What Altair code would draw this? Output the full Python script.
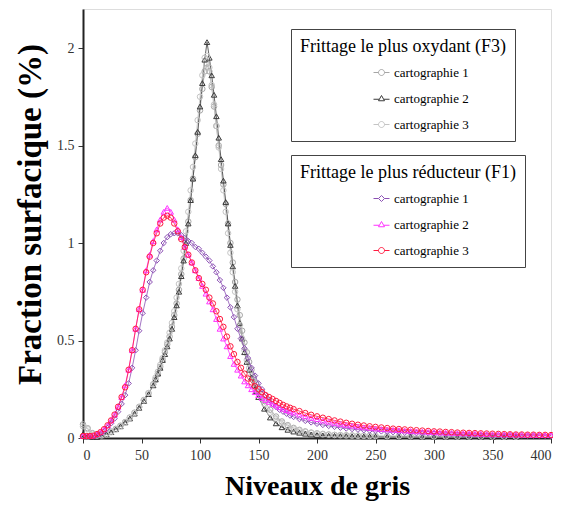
import altair as alt
import pandas as pd

# ---------------- data ----------------
SERIES_LABELS = ["cartographie 1", "cartographie 2", "cartographie 3"]
F3_TITLE = "Frittage le plus oxydant (F3)"
F1_TITLE = "Frittage le plus réducteur (F1)"

# grey levels sampled for the F3 (most oxidising) maps
F3_X = (list(range(0, 61, 4)) + list(range(62, 151, 2))
        + list(range(155, 251, 5)) + list(range(260, 371, 10)))

F3_CARTO1 = [0.07, 0.05, 0.025, 0.015, 0.015, 0.022, 0.033, 0.047, 0.063, 0.082, 0.105, 0.13, 0.16, 0.195, 0.23, 0.275,
             0.30, 0.33, 0.365, 0.40, 0.44, 0.48, 0.52, 0.57, 0.63, 0.69, 0.76, 0.84, 0.92, 1.01, 1.11,
             1.22, 1.33, 1.44, 1.56, 1.68, 1.79, 1.88, 1.92, 1.88, 1.80, 1.70, 1.60, 1.50, 1.40, 1.30,
             1.20, 1.10, 1.00, 0.90, 0.80, 0.71, 0.63, 0.55, 0.49, 0.44, 0.39, 0.35, 0.31, 0.28, 0.25,
             0.19, 0.145, 0.11, 0.085, 0.066, 0.052, 0.042, 0.034, 0.028, 0.024, 0.021, 0.018, 0.016, 0.015, 0.014,
             0.013, 0.012, 0.011, 0.011, 0.010,
             0.010, 0.009, 0.009, 0.009, 0.008, 0.008, 0.008, 0.008, 0.007, 0.007, 0.007, 0.007]
F3_CARTO2 = [0.02, 0.01, 0.005, 0.005, 0.01, 0.02, 0.03, 0.045, 0.06, 0.08, 0.10, 0.125, 0.155, 0.19, 0.225, 0.27,
             0.30, 0.33, 0.36, 0.40, 0.43, 0.47, 0.51, 0.56, 0.62, 0.68, 0.75, 0.83, 0.91, 1.00, 1.10,
             1.22, 1.33, 1.45, 1.57, 1.70, 1.82, 1.94, 2.03, 1.95, 1.86, 1.76, 1.65, 1.54, 1.43, 1.32,
             1.21, 1.10, 0.99, 0.88, 0.78, 0.68, 0.59, 0.51, 0.44, 0.39, 0.35, 0.31, 0.27, 0.24, 0.21,
             0.15, 0.105, 0.075, 0.055, 0.042, 0.033, 0.027, 0.022, 0.018, 0.015, 0.013, 0.012, 0.011, 0.010, 0.010,
             0.009, 0.009, 0.008, 0.008, 0.008,
             0.007, 0.007, 0.007, 0.006, 0.006, 0.006, 0.006, 0.005, 0.005, 0.005, 0.005, 0.005]
F3_CARTO3 = [0.06, 0.045, 0.022, 0.012, 0.013, 0.02, 0.03, 0.044, 0.06, 0.08, 0.103, 0.128, 0.158, 0.193, 0.23, 0.275,
             0.31, 0.34, 0.375, 0.41, 0.45, 0.49, 0.54, 0.59, 0.65, 0.72, 0.79, 0.87, 0.96, 1.06, 1.16,
             1.27, 1.39, 1.51, 1.63, 1.75, 1.86, 1.95, 1.96, 1.90, 1.81, 1.71, 1.60, 1.49, 1.38, 1.27,
             1.16, 1.05, 0.95, 0.85, 0.75, 0.66, 0.58, 0.51, 0.45, 0.40, 0.36, 0.32, 0.29, 0.26, 0.23,
             0.175, 0.13, 0.10, 0.078, 0.06, 0.048, 0.038, 0.031, 0.026, 0.022, 0.019, 0.017, 0.015, 0.014, 0.013,
             0.012, 0.011, 0.011, 0.010, 0.010,
             0.009, 0.009, 0.009, 0.008, 0.008, 0.008, 0.007, 0.007, 0.007, 0.007, 0.006, 0.006]

# grey levels sampled for the F1 (most reducing) maps
F1_X = list(range(0, 181, 3)) + list(range(185, 401, 5))

F1_CARTO1 = [0.01, 0.008, 0.007, 0.009, 0.014, 0.022, 0.035, 0.052, 0.075, 0.10,
             0.135, 0.175, 0.22, 0.28, 0.36, 0.45, 0.55, 0.64, 0.72, 0.80,
             0.86, 0.91, 0.96, 1.00, 1.03, 1.045, 1.05, 1.05, 1.04, 1.025,
             1.01, 1.00, 0.98, 0.97, 0.95, 0.93, 0.91, 0.88, 0.85, 0.81,
             0.77, 0.72, 0.67, 0.62, 0.56, 0.51, 0.46, 0.41, 0.36, 0.32,
             0.28, 0.25, 0.22, 0.195, 0.175, 0.16, 0.145, 0.135, 0.125, 0.115,
             0.108,
             0.097, 0.088, 0.080, 0.073, 0.067, 0.062, 0.057, 0.053, 0.049, 0.046, 0.043, 0.040, 0.038, 0.036,
             0.034, 0.032, 0.030, 0.029, 0.027, 0.026, 0.025, 0.024, 0.023, 0.022,
             0.021, 0.020, 0.020, 0.019, 0.018, 0.017, 0.017, 0.016, 0.016, 0.015,
             0.015, 0.014, 0.014, 0.013, 0.013, 0.012, 0.012, 0.012, 0.011, 0.011]
F1_CARTO2 = [0.01, 0.01, 0.01, 0.013, 0.02, 0.03, 0.045, 0.065, 0.09, 0.12,
             0.16, 0.21, 0.27, 0.35, 0.45, 0.56, 0.66, 0.76, 0.86, 0.94,
             1.01, 1.07, 1.12, 1.16, 1.18, 1.16, 1.12, 1.07, 1.03, 0.98,
             0.94, 0.90, 0.86, 0.82, 0.78, 0.74, 0.70, 0.66, 0.61, 0.56,
             0.51, 0.47, 0.42, 0.38, 0.35, 0.32, 0.29, 0.27, 0.25, 0.235,
             0.22, 0.205, 0.195, 0.185, 0.175, 0.167, 0.158, 0.15, 0.143, 0.136,
             0.13,
             0.12, 0.111, 0.103, 0.096, 0.089, 0.083, 0.077, 0.072, 0.067, 0.063, 0.059, 0.055, 0.052, 0.049,
             0.046, 0.044, 0.042, 0.040, 0.038, 0.036, 0.034, 0.033, 0.031, 0.030,
             0.028, 0.027, 0.026, 0.025, 0.024, 0.023, 0.022, 0.021, 0.020, 0.019,
             0.019, 0.018, 0.018, 0.017, 0.017, 0.016, 0.016, 0.015, 0.015, 0.014]
F1_CARTO3 = [0.01, 0.01, 0.01, 0.012, 0.02, 0.03, 0.045, 0.065, 0.09, 0.12,
             0.16, 0.21, 0.26, 0.35, 0.45, 0.56, 0.66, 0.76, 0.85, 0.93,
             1.00, 1.05, 1.10, 1.13, 1.14, 1.13, 1.10, 1.06, 1.02, 0.98,
             0.94, 0.90, 0.86, 0.82, 0.79, 0.76, 0.72, 0.69, 0.65, 0.61,
             0.57, 0.52, 0.47, 0.43, 0.39, 0.36, 0.33, 0.305, 0.285, 0.265,
             0.25, 0.235, 0.22, 0.21, 0.20, 0.19, 0.18, 0.17, 0.162, 0.155,
             0.148,
             0.138, 0.128, 0.119, 0.111, 0.104, 0.097, 0.090, 0.084, 0.078, 0.073, 0.068, 0.064, 0.060, 0.057,
             0.054, 0.051, 0.048, 0.046, 0.044, 0.042, 0.040, 0.038, 0.036, 0.034,
             0.033, 0.031, 0.030, 0.028, 0.027, 0.026, 0.025, 0.024, 0.023, 0.022,
             0.021, 0.020, 0.019, 0.018, 0.018, 0.017, 0.017, 0.016, 0.016, 0.015]

X_TICKS = [0, 50, 100, 150, 200, 250, 300, 350, 400]
Y_TICKS = [0, 0.5, 1, 1.5, 2]

# ---------------- styles ----------------
F3_COLORS = ["#a6a6a6", "#3a3a3a", "#c4c4c4"]
F1_COLORS = ["#8c50b4", "#ff33ff", "#ff1a40"]
F3_SHAPES = ["circle", "triangle-up", "circle"]
F1_SHAPES = ["diamond", "triangle-up", "circle"]
P_CIRCLE = "M-1.6,0H-0.6M0.6,0H1.6M-0.6,0A0.6,0.6 0 1,0 0.6,0A0.6,0.6 0 1,0 -0.6,0"
P_TRI = "M-1.6,0.15H-0.5M0.5,0.15H1.6M0,-0.6L0.6,0.45L-0.6,0.45Z"
P_DIA = "M-1.6,0H-0.6M0.6,0H1.6M0,-0.6L0.6,0L0,0.6L-0.6,0Z"
F3_PATHS = [P_CIRCLE, P_TRI, P_CIRCLE]
F1_PATHS = [P_DIA, P_TRI, P_CIRCLE]
SERIF = "Liberation Serif"


def long_df(xs, series):
    rows = []
    for lab, vals in zip(SERIES_LABELS, series):
        assert len(vals) == len(xs), (lab, len(vals), len(xs))
        for g, v in zip(xs, vals):
            rows.append({"g": g, "v": v, "carto": lab})
    return pd.DataFrame(rows)


df3 = long_df(F3_X, [F3_CARTO1, F3_CARTO2, F3_CARTO3])
df1 = long_df(F1_X, [F1_CARTO1, F1_CARTO2, F1_CARTO3])

x_axis = alt.Axis(values=X_TICKS, grid=False, labelFont=SERIF, labelFontSize=14, labelColor="#333",
                  tickColor="#333", tickSize=5, domainColor="#222", domainWidth=2, labelPadding=5,
                  titleFont=SERIF, titleFontSize=28, titleFontWeight="bold", titleColor="black",
                  titlePadding=10)
y_axis = alt.Axis(values=Y_TICKS, grid=False, format=".1~f", labelFont=SERIF, labelFontSize=14,
                  labelColor="#333", tickColor="#333", tickSize=5, domainColor="#222", domainWidth=2,
                  labelPadding=4, titleFont=SERIF, titleFontSize=33, titleFontWeight="bold",
                  titleColor="black", titlePadding=9, titleY=205)


def legend(ly):
    return alt.Legend(orient="none", legendX=208, legendY=ly, direction="vertical",
                      titleFont=SERIF, titleFontSize=18, titleFontWeight="normal", titleColor="black",
                      titleLimit=400, titlePadding=10,
                      labelFont=SERIF, labelFontSize=13, labelColor="black", labelLimit=300,
                      strokeColor="#444", fillColor="white", padding=9,
                      symbolSize=100, symbolStrokeWidth=1, symbolOpacity=1, symbolFillColor="white",
                      symbolOffset=75, labelOffset=6, rowPadding=12)


def group(df, title, colors, shapes, paths, ly):
    base = alt.Chart(df).encode(
        x=alt.X("g:Q", scale=alt.Scale(domain=[0, 400], nice=False), axis=x_axis, title="Niveaux de gris"),
        y=alt.Y("v:Q", scale=alt.Scale(domain=[0, 2.2], nice=False), axis=y_axis,
                title="Fraction surfacique (%)"),
    )
    color = alt.Color("carto:N", scale=alt.Scale(domain=SERIES_LABELS, range=colors), title=title,
                      legend=legend(ly))
    line = base.mark_line(strokeWidth=0.8).encode(color=color, detail="carto:N")
    pts = [base.transform_filter(alt.datum.carto == lab)
               .mark_point(shape=s, filled=False, size=30, strokeWidth=1, opacity=1)
               .encode(color=color)
           for lab, s in zip(SERIES_LABELS, shapes)]
    leg = base.transform_filter("false").mark_point(filled=False).encode(
        color=color,
        shape=alt.Shape("carto:N", scale=alt.Scale(domain=SERIES_LABELS, range=paths), title=title,
                        legend=legend(ly)),
    )
    return alt.layer(line, *pts, leg)


f3 = group(df3, F3_TITLE, F3_COLORS, F3_SHAPES, F3_PATHS, 20)
f1 = group(df1, F1_TITLE, F1_COLORS, F1_SHAPES, F1_PATHS, 146)

chart = (
    alt.layer(f3, f1)
    .resolve_scale(color="independent", shape="independent")
    .properties(width=468, height=429, autosize=alt.AutoSizeParams(type="none"),
                padding={"left": 75, "top": 1, "right": 2, "bottom": 64})
    .configure_view(stroke="#333", strokeWidth=2)
    .configure_legend(labelFont=SERIF, labelFontSize=13, labelColor="black",
                      titleFont=SERIF, titleFontSize=18, titleFontWeight="normal")
    .configure(background="white")
)

chart.save("out.html", embed_options={"renderer": "svg", "actions": False})
